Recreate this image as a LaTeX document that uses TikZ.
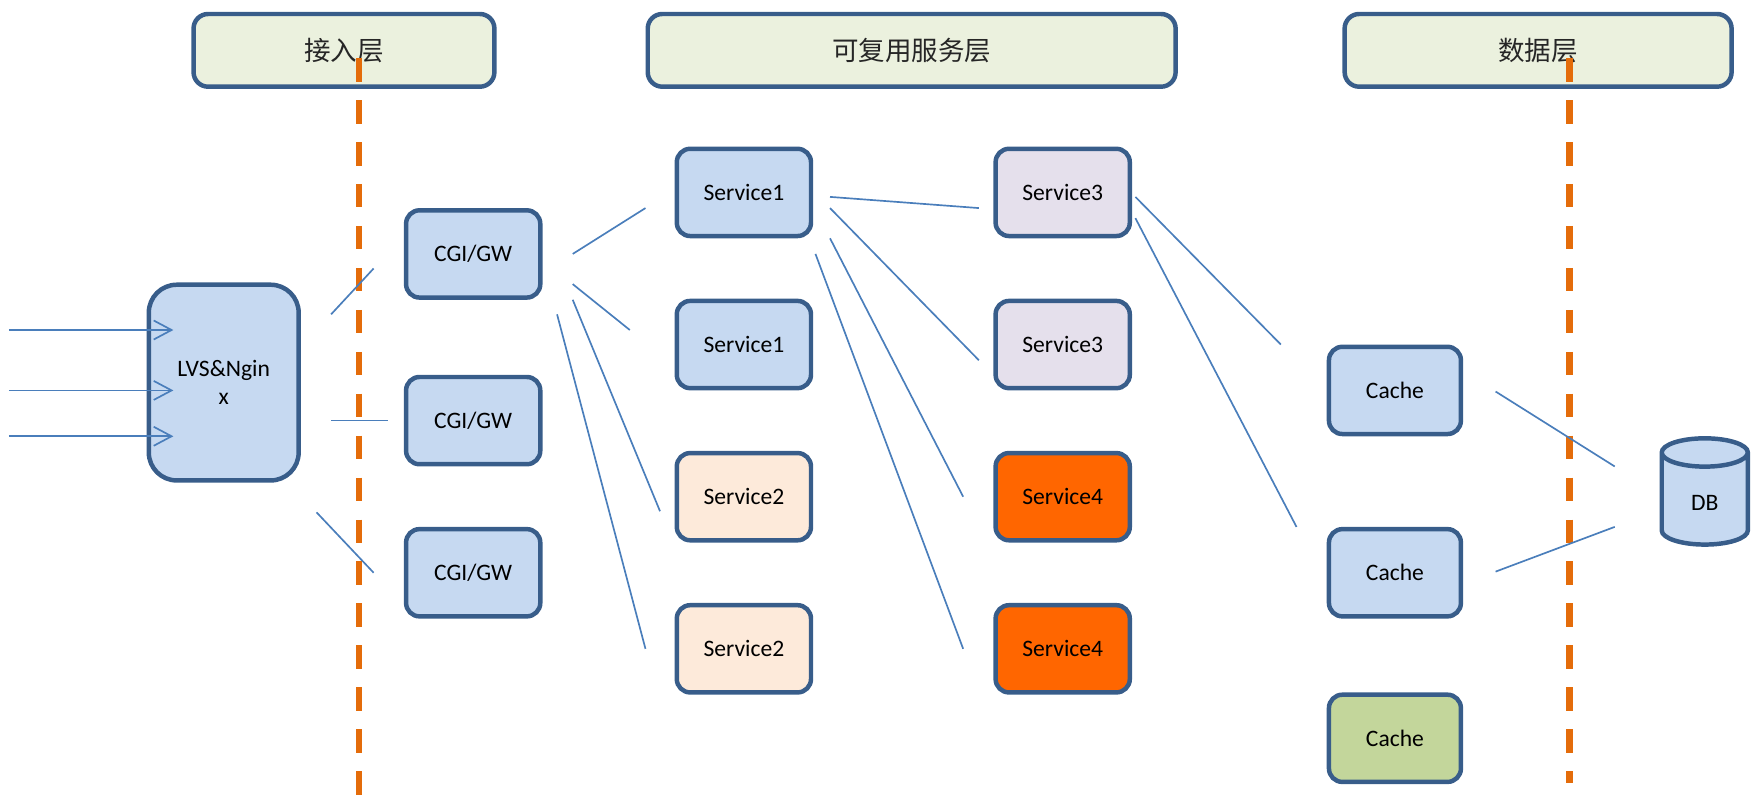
\documentclass[tikz,border=0pt]{standalone}
\usepackage{fontspec}
\setmainfont{Carlito}
\newfontfamily\cjk{Noto Sans CJK SC}
\usepackage{tikz}
\usetikzlibrary{shapes.geometric,arrows.meta,calc,positioning}
\definecolor{boxborder}{RGB}{56,93,138}
\definecolor{boxblue}{RGB}{198,217,241}
\definecolor{layergreen}{RGB}{235,241,222}
\definecolor{svcpurple}{RGB}{229,224,236}
\definecolor{svcpeach}{RGB}{253,234,218}
\definecolor{svcorange}{RGB}{255,102,0}
\definecolor{cachegreen}{RGB}{195,214,155}
\definecolor{linkblue}{RGB}{74,126,187}
\definecolor{layerorange}{RGB}{228,108,10}

\begin{document}
\begin{tikzpicture}[x=0.02cm, y=-0.02cm,
    box/.style={draw=boxborder, line width=0.08cm, rounded corners=0.24cm, minimum width=2.4cm, minimum height=1.56cm, fill=boxblue, inner sep=0pt, font=\fontsize{12}{14.5}\selectfont},
    layer/.style={draw=boxborder, line width=0.08cm, rounded corners=0.26cm, minimum height=1.3cm, fill=layergreen, text=black!85, font=\cjk\fontsize{13.5}{16}\selectfont},
    link/.style={draw=linkblue, line width=0.03cm},
    inarrow/.style={link, -{Straight Barb[length=0.32cm, width=0.34cm]}},
    divider/.style={draw=layerorange, line width=0.11cm, dash pattern=on 0.42cm off 0.33cm}]
      \useasboundingbox (0,0) rectangle (1568,711);
      % layer headers
      \node[layer, minimum width=5.38cm] (access) at (307.5,45) {接入层};
      \node[layer, minimum width=9.44cm] (reuse) at (815,45) {可复用服务层};
      \node[layer, minimum width=6.92cm] (data) at (1375,45) {数据层};
      % layer borders
      \draw[divider] (321,52) -- (321,711);
      \draw[divider] (1403,52) -- (1403,700);
      % entry node
      \node[box, minimum width=2.68cm, minimum height=3.5cm, rounded corners=0.5cm, align=center] (lvs) at (200,342) {LVS\&Ngin\\x};
      \foreach \i/\dy in {1/-47, 2/7, 3/48} {
          \coordinate (in\i) at ($(lvs.west)+(-123,\dy)$);
          \draw[inarrow] (in\i) -- ($(lvs.west)+(24,\dy)$);
        }
      % gateways
      \foreach \i/\y in {1/227, 2/376, 3/512} {
          \node[box] (cgi\i) at (423,\y) {CGI/GW};
        }
      % services, two columns
      \foreach \name/\txt/\col/\x/\y in {s1a/Service1/boxblue/665/172, s1b/Service1/boxblue/665/308,
          s2a/Service2/svcpeach/665/444, s2b/Service2/svcpeach/665/580,
          s3a/Service3/svcpurple/950/172, s3b/Service3/svcpurple/950/308,
          s4a/Service4/svcorange/950/444, s4b/Service4/svcorange/950/580} {
          \node[box, fill=\col] (\name) at (\x,\y) {\txt};
        }
      % caches and database
      \foreach \i/\col/\y in {1/boxblue/349, 2/boxblue/512, 3/cachegreen/660} {
          \node[box, fill=\col, minimum width=2.36cm] (cache\i) at (1247,\y) {Cache};
        }
      \node[cylinder, shape border rotate=90, aspect=0.7, draw=boxborder, line width=0.08cm, fill=boxblue, minimum width=1.54cm, minimum height=1.9cm, font=\fontsize{12}{14.5}\selectfont] (db) at (1524,450) {DB};
      % links lvs -> cgi
      \draw[link] ($(lvs.east)+(27,-61)$) -- ($(cgi1.west)+(-27,13)$);
      \draw[link] ($(lvs.east)+(27,34)$) -- ($(cgi2.west)+(-14,0)$);
      \draw[link] ($(lvs.east)+(14,116)$) -- ($(cgi3.west)+(-27,0)$);
      % links cgi -> services
      \draw[link] ($(cgi1.east)+(27,0)$) -- ($(s1a.west)+(-26,14)$);
      \draw[link] ($(cgi1.east)+(27,27)$) -- ($(s1b.west)+(-40,-13)$);
      \draw[link] ($(cgi1.east)+(27,41)$) -- ($(s2a.west)+(-13,13)$);
      \draw[link] ($(cgi1.east)+(13,54)$) -- ($(s2b.west)+(-26,0)$);
      % links service1 -> service3/4
      \draw[link] ($(s1a.east)+(15,4)$) -- ($(s3a.west)+(-13,14)$);
      \draw[link] ($(s1a.east)+(15,14)$) -- ($(s3b.west)+(-13,14)$);
      \draw[link] ($(s1a.east)+(15,41)$) -- ($(s4a.west)+(-27,0)$);
      \draw[link] ($(s1a.east)+(2,55)$) -- ($(s4b.west)+(-27,0)$);
      % links service3 -> cache -> db
      \draw[link] ($(s3a.east)+(3,4)$) -- ($(cache1.west)+(-41,-41)$);
      \draw[link] ($(s3a.east)+(3,23)$) -- ($(cache2.west)+(-27,-41)$);
      \draw[link] ($(cache1.east)+(29,1)$) -- ($(db.west)+(-40,-33)$);
      \draw[link] ($(cache2.east)+(29,-1)$) -- ($(db.west)+(-40,21)$);
    \end{tikzpicture}
\end{document}
